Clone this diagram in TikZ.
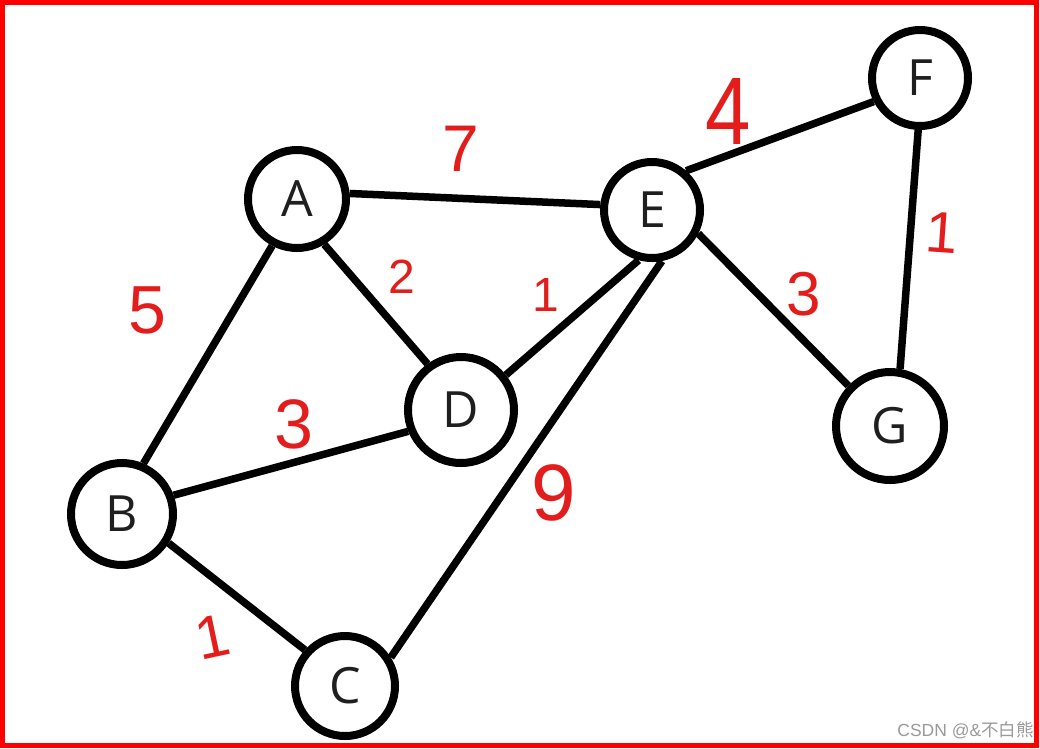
\documentclass[tikz,border=0pt]{standalone}
\usepackage{fontspec}
\setmainfont{Open Sans}
\newfontfamily\numfont{Liberation Sans}
\newfontfamily\cjkfont{Noto Sans CJK SC}
\definecolor{hred}{HTML}{E31C1C}
\definecolor{wm}{HTML}{9A9A9A}
\begin{document}
\begin{tikzpicture}[x=1pt,y=-1pt,
  vtx/.style={circle,draw=black,line width=8pt,inner sep=0pt,font=\fontsize{50}{50}\selectfont,text=black!88},
  edge/.style={line width=7.5pt,black},
  wt/.style={text=hred,inner sep=0pt,font=\numfont}]
\useasboundingbox (0,0) rectangle (1040,748);
\fill[white] (0,0) rectangle (1040,748);
\draw[red,line width=5pt] (2.5,2.5) rectangle (1036.5,745);

\node[vtx,minimum size=98pt]  (A) at (297,199) {A};
\node[vtx,minimum size=102pt] (B) at (122,514) {B};
\node[vtx,minimum size=100pt] (C) at (345,686) {C};
\node[vtx,minimum size=106pt] (D) at (461,410) {D};
\node[vtx,minimum size=96pt]  (E) at (652,210) {E};
\node[vtx,minimum size=96pt]  (F) at (920,78)  {F};
\node[vtx,minimum size=108pt] (G) at (890,426) {G};

\draw[edge] (A.6) -- (E.174);
\draw[edge] (A.-59) -- (D.126);
\draw[edge] (A.-118) -- (B.67);
\draw[edge] (B.20) -- (D.202);
\draw[edge] (B.-32) -- (C.138);
\draw[edge] (D.38) -- (E.-105);
\draw[edge] (E.-79) -- (C.32);
\draw[edge] (E.49) -- (F.207);
\draw[edge] (F.-92) -- (G.80);
\draw[edge] (E.-27) -- (G.136);

\node[wt,font=\numfont\fontsize{66}{66}\selectfont] (w7) at (461,149) {7};
\node[wt,font=\numfont\fontsize{96}{96}\selectfont,xscale=0.85] (w4) at (728,111) {4};
\node[wt,font=\numfont\fontsize{58}{58}\selectfont,rotate=-4] (w1a) at (942,233) {1};
\node[wt,font=\numfont\fontsize{48}{48}\selectfont] (w2) at (402,277) {2};
\node[wt,font=\numfont\fontsize{48}{48}\selectfont] (w1b) at (546,295) {1};
\node[wt,font=\numfont\fontsize{62}{62}\selectfont] (w3a) at (804,294) {3};
\node[wt,font=\numfont\fontsize{68}{68}\selectfont] (w5) at (147,310) {5};
\node[wt,font=\numfont\fontsize{70}{70}\selectfont] (w3b) at (294,424) {3};
\node[wt,font=\numfont\fontsize{80}{80}\selectfont] (w9) at (554,493) {9};
\node[wt,font=\numfont\fontsize{60}{60}\selectfont,rotate=12] (w1c) at (213,637) {1};

\node[text=wm,anchor=south east,inner sep=0pt,font=\fontsize{17.5}{17.5}\selectfont] (wmk) at (1034,739) {\numfont CSDN @\&\cjkfont 不白熊};
\end{tikzpicture}
\end{document}
